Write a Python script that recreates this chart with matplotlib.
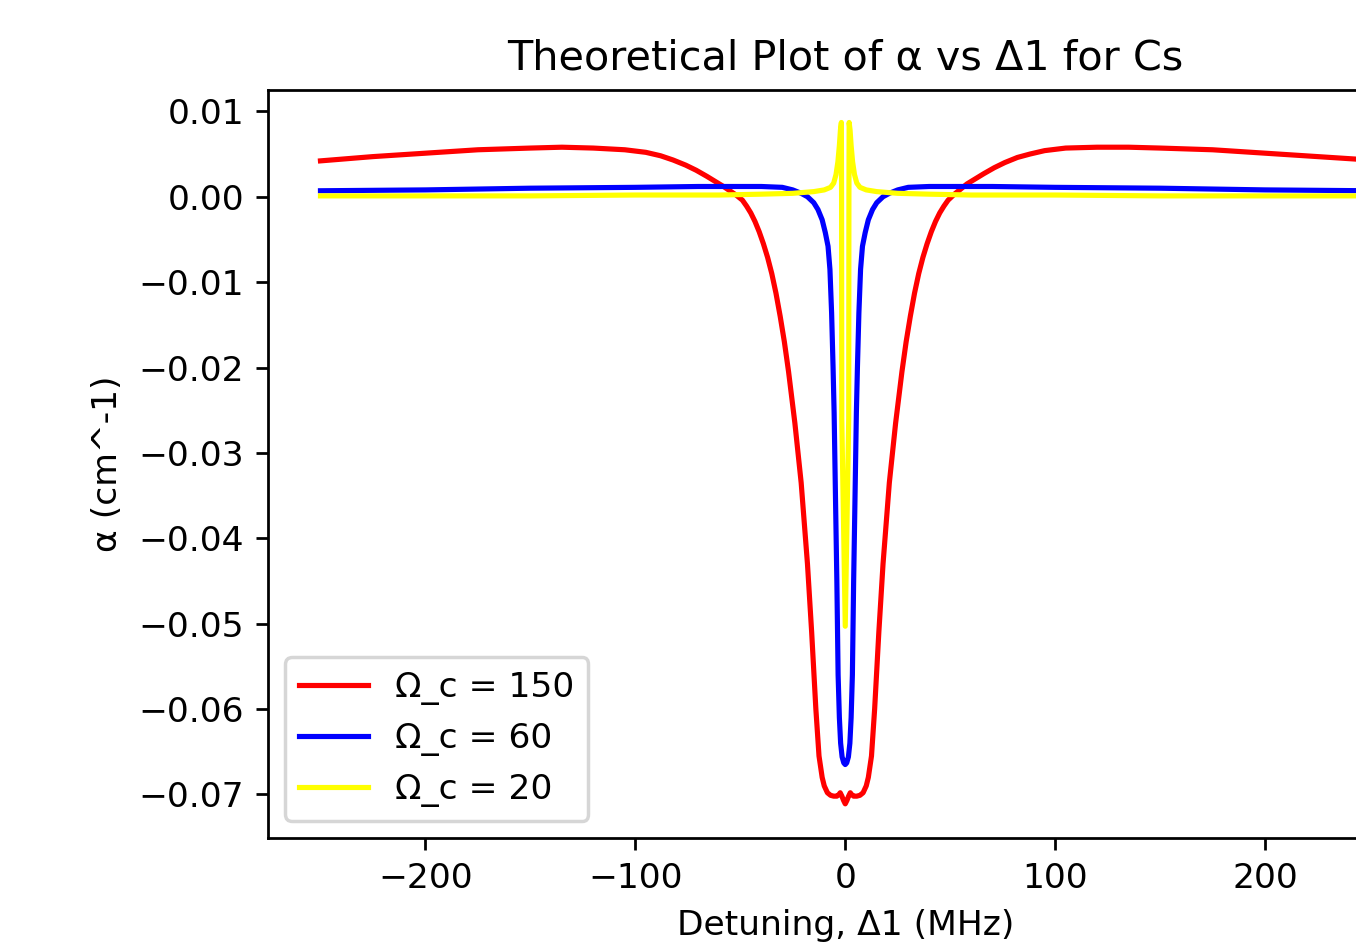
from matplotlib import pyplot as plt

# detuning values (MHz) and absorption (cm^-1)
red_d = [-250, -225, -200, -175, -150, -135, -120, -105, -95, -88, -82, -76, -71, -66, -62,
         -58, -55, -52, -49, -47, -45, -43, -41, -39, -37, -35, -33, -31, -29, -27, -24, -21,
         -18, -16, -14, -12.5, -11, -10, -8.5, -7, -5.5, -4, -3, -2.4, -1.6, -0.8, 0,
         0.8, 1.6, 2.4, 3, 4, 5.5, 7, 8.5, 10, 11, 12.5, 14, 16, 18, 21, 24, 27, 29, 31, 33,
         35, 37, 39, 41, 43, 45, 47, 49, 52, 55, 58, 62, 66, 71, 76, 82, 88, 95, 105, 120,
         135, 150, 175, 200, 225, 250]
red_a = [0.0042, 0.0047, 0.0051, 0.0055, 0.0057, 0.0058, 0.0057, 0.0055, 0.0052, 0.0048,
         0.0043, 0.0037, 0.0031, 0.0024, 0.0018, 0.0012, 0.0007, 0.0002, -0.0004, -0.0011,
         -0.0019, -0.0029, -0.0041, -0.0055, -0.0071, -0.0090, -0.0113, -0.0140, -0.0170,
         -0.0205, -0.0265, -0.0335, -0.0430, -0.0510, -0.0600, -0.0655, -0.0680, -0.0690,
         -0.0698, -0.0701, -0.0702, -0.0702, -0.0700, -0.0698, -0.0702, -0.0707, -0.0711,
         -0.0707, -0.0702, -0.0698, -0.0700, -0.0702, -0.0702, -0.0701, -0.0698, -0.0690,
         -0.0680, -0.0655, -0.0600, -0.0510, -0.0430, -0.0335, -0.0265, -0.0205, -0.0170,
         -0.0140, -0.0113, -0.0090, -0.0071, -0.0055, -0.0041, -0.0029, -0.0019, -0.0011,
         -0.0004, 0.0003, 0.0009, 0.0015, 0.0021, 0.0027, 0.0034, 0.0040, 0.0046, 0.0050,
         0.0054, 0.0057, 0.0058, 0.0058, 0.0057, 0.0055, 0.0051, 0.0047, 0.0043]

blue_d = [-250, -200, -150, -100, -70, -50, -40, -30, -25, -21, -18, -15, -13, -11, -9.5,
          -8.2, -7.3, -6.5, -5.8, -5.3, -4.6, -4.0, -3.4, -2.8, -2.2, -1.5, -0.7, 0,
          0.7, 1.5, 2.2, 2.8, 3.4, 4.0, 4.6, 5.3, 5.8, 6.5, 7.3, 8.2, 9.5, 11, 13, 15, 18,
          21, 25, 30, 40, 50, 70, 100, 150, 200, 250]
blue_a = [0.0007, 0.0008, 0.0010, 0.0011, 0.0012, 0.0012, 0.0012, 0.0011, 0.0008, 0.0004,
          0.0000, -0.0007, -0.0015, -0.0027, -0.0042, -0.0058, -0.0085, -0.0136, -0.0200,
          -0.0253, -0.0360, -0.0450, -0.0560, -0.0610, -0.0640, -0.0656, -0.0663, -0.0665,
          -0.0663, -0.0656, -0.0640, -0.0610, -0.0560, -0.0450, -0.0360, -0.0253, -0.0200,
          -0.0136, -0.0085, -0.0058, -0.0042, -0.0027, -0.0015, -0.0007, 0.0000, 0.0004,
          0.0008, 0.0011, 0.0012, 0.0012, 0.0012, 0.0011, 0.0010, 0.0008, 0.0007]

yellow_d = [-250, -150, -100, -60, -40, -25, -15, -10, -7, -5.5, -4.4, -3.5, -2.8, -2.3,
            -1.85, -1.75, -1.65, 0, 1.65, 1.75, 1.85, 2.3, 2.8, 3.5, 4.4, 5.5, 7, 10, 15,
            25, 40, 60, 100, 150, 250]
yellow_a = [0.0001, 0.0001, 0.0002, 0.0002, 0.0003, 0.0004, 0.0006, 0.0008, 0.0011, 0.0016,
            0.0026, 0.0041, 0.0060, 0.0078, 0.0087, 0.0000, -0.0260, -0.0503, -0.0260,
            0.0000, 0.0087, 0.0078, 0.0060, 0.0041, 0.0026, 0.0016, 0.0011, 0.0008, 0.0006,
            0.0004, 0.0003, 0.0002, 0.0002, 0.0001, 0.0001]

DPI = 248
fig = plt.figure(dpi=DPI, figsize=(1356 / DPI, 947 / DPI))
# axes runs off the right edge like in the reference
ax = fig.add_axes([268 / 1356, 1 - 838 / 947, 1154.5 / 1356, 748 / 947])

ax.plot(red_d, red_a, c="red", label="Ω_c = 150")
ax.plot(blue_d, blue_a, c="blue", label="Ω_c = 60")
ax.plot(yellow_d, yellow_a, c="yellow", label="Ω_c = 20")

ax.set_xlim(-275, 275)
ax.set_ylim(-0.0751, 0.0125)
ax.set_title("Theoretical Plot of α vs Δ1 for Cs")
ax.set_xlabel("Detuning, Δ1 (MHz)")
ax.set_ylabel("α (cm^-1)")
ax.legend(loc="lower left")

plt.savefig("out.png", dpi=DPI)
